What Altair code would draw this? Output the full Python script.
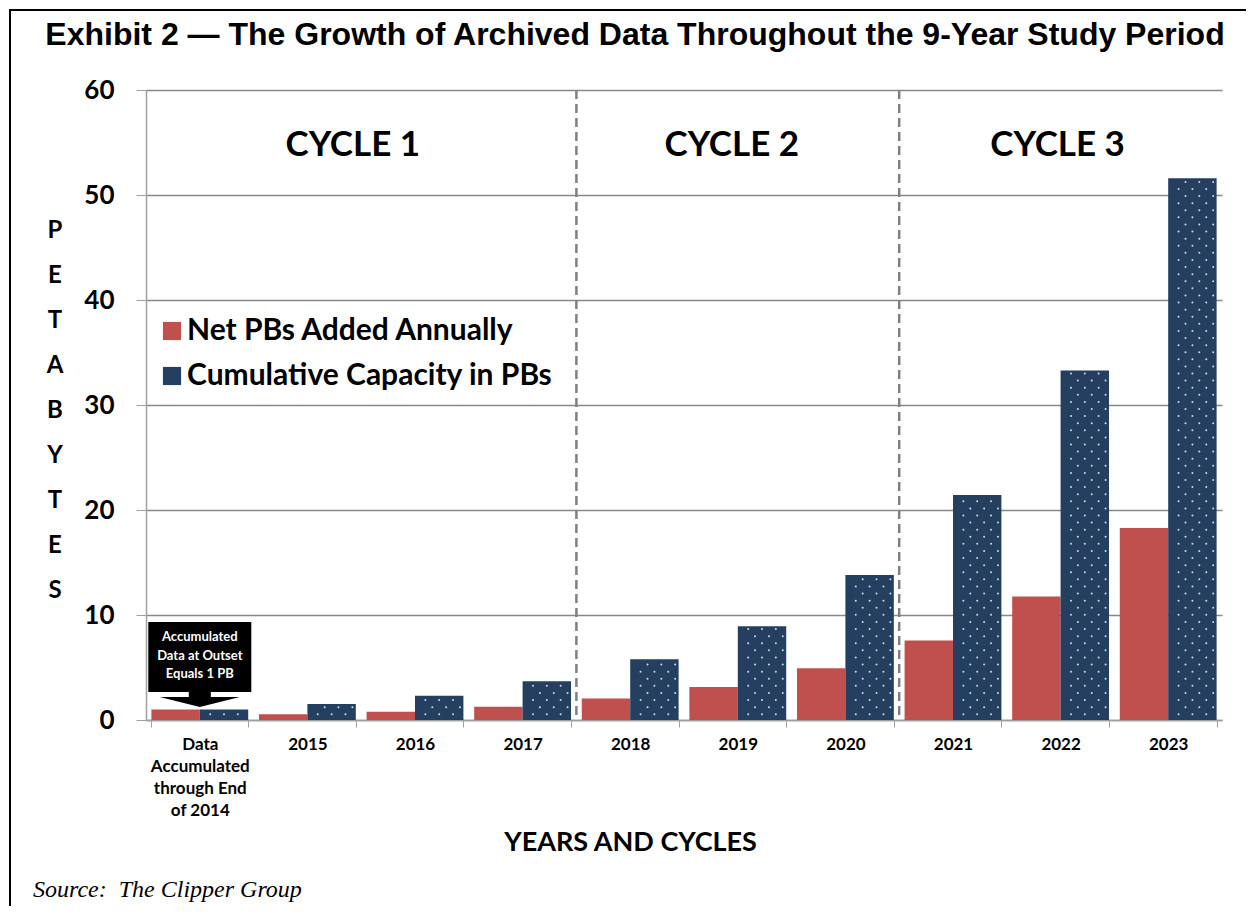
import altair as alt
import pandas as pd

# ---------------- data ----------------
categories = ["Data|Accumulated|through End|of 2014", "2015", "2016", "2017", "2018",
              "2019", "2020", "2021", "2022", "2023"]
series_names = ["Net PBs Added Annually", "Cumulative Capacity in PBs"]
net_added = [1.0, 0.54, 0.79, 1.27, 2.05, 3.14, 4.92, 7.58, 11.77, 18.29]
cumulative = [1.0, 1.52, 2.31, 3.69, 5.79, 8.92, 13.81, 21.43, 33.29, 51.6]
y_ticks = [0, 10, 20, 30, 40, 50, 60]
cycle_labels = ["CYCLE 1", "CYCLE 2", "CYCLE 3"]
cycle_anchor = ["2015", "2019", "2022"]
cycle_boundaries = ["2018", "2021"]
title_text = "Exhibit 2 \u2014 The Growth of Archived Data Throughout the 9-Year Study Period"
source_text = "Source:\u00a0 The Clipper Group"
callout_lines = ["Accumulated", "Data at Outset", "Equals 1 PB"]
y_title_letters = list("PETABYTES")

RED = "#C0504D"
NAVY = "#243F60"
FONT = "Lato"

W, H = 1076, 630

bars_df = pd.DataFrame({
    "cat": categories * 2,
    "series": [series_names[0]] * len(categories) + [series_names[1]] * len(categories),
    "value": net_added + cumulative,
})

# decorative dot pattern inside the cumulative bars
slot_domain = [f"s{i:02d}" for i in range(14)]
dot_rows = []
for c, v in zip(categories, cumulative):
    k = 0
    while True:
        yy = 0.55 + 0.676 * k
        if yy > v - 0.25:
            break
        js = [1, 3, 5] if k % 2 == 0 else [2, 4, 6]
        for j in js:
            dot_rows.append({"cat": c, "slot": slot_domain[7 + j], "y": yy})
        k += 1
dots_df = pd.DataFrame(dot_rows)

one = pd.DataFrame({"a": [0]})

x_scale = alt.Scale(domain=categories, paddingInner=0.1, paddingOuter=0.05)
y_scale = alt.Scale(domain=[0, 60], nice=False)

x_axis = alt.Axis(
    labelAngle=0, labelFont=FONT, labelFontSize=17, labelFontWeight="bold",
    labelColor="black",
    labelExpr="isString(datum.value) ? split(datum.value, '|') : ''",
    labelLineHeight=22, labelPadding=9, tickBand="extent", tickSize=7,
    tickColor="#a0a0a0", domainColor="#a0a0a0", domainWidth=1.5,
    title="YEARS AND CYCLES", titleFont=FONT, titleFontSize=27, titleFontWeight="bold",
    titleColor="black", titleX=484, titleY=122, titleBaseline="middle",
    titleAnchor="middle",
)
y_axis = alt.Axis(
    values=y_ticks, labelFont=FONT, labelFontSize=26, labelFontWeight="bold",
    labelColor="black", labelPadding=22, tickSize=10, tickColor="#a0a0a0",
    domainColor="#a0a0a0", domainWidth=1.5, gridColor="#888888", gridWidth=1.3,
    title=None,
)

bars = alt.Chart(bars_df).mark_bar().encode(
    x=alt.X("cat:N", sort=categories, scale=x_scale, axis=x_axis),
    xOffset=alt.XOffset("series:N", sort=series_names, scale=alt.Scale(domain=series_names)),
    y=alt.Y("value:Q", scale=y_scale, axis=y_axis),
    color=alt.Color("series:N", scale=alt.Scale(domain=series_names, range=[RED, NAVY]),
                    legend=alt.Legend(orient="none", legendX=11, legendY=226, title=None,
                                      symbolType="square", symbolSize=330,
                                      symbolStrokeWidth=0, labelFont=FONT,
                                      labelFontSize=30, labelFontWeight="bold",
                                      labelColor="black", rowPadding=15, labelOffset=0,
                                      labelLimit=600)),
)

dots = alt.Chart(dots_df).mark_circle(size=4, color="#d4dbe6", opacity=1, xOffset=-3.5).encode(
    x=alt.X("cat:N", sort=categories, scale=x_scale, axis=x_axis),
    xOffset=alt.XOffset("slot:N", scale=alt.Scale(domain=slot_domain)),
    y=alt.Y("y:Q", scale=y_scale, axis=y_axis),
)

div_df = pd.DataFrame({"cat": cycle_boundaries})
dividers = alt.Chart(div_df).mark_rule(color="#808080", strokeWidth=2.5,
                                       strokeDash=[9, 5], xOffset=-5.38).encode(
    x=alt.X("cat:N", sort=categories, scale=x_scale, bandPosition=0, axis=x_axis),
    y=alt.value(0), y2=alt.value(H),
)

cycle_layers = []
for lab, anc, bp, dx in zip(cycle_labels, cycle_anchor, [1, 0.5, 0.5], [-3, -6, -3]):
    cdf = pd.DataFrame({"cat": [anc], "label": [lab], "v": [54.8]})
    cycle_layers.append(
        alt.Chart(cdf).mark_text(font=FONT, fontSize=35, fontWeight="bold", color="black",
                                 baseline="middle", align="center", dx=dx).encode(
            x=alt.X("cat:N", sort=categories, scale=x_scale, bandPosition=bp, axis=x_axis),
            y=alt.Y("v:Q", scale=y_scale, axis=y_axis),
            text="label:N",
        )
    )

call_df = pd.DataFrame({"cat": [categories[0]], "top": [9.33], "bot": [2.67],
                        "first": [7.9], "arrow": [1.95],
                        "txt": ["\n".join(callout_lines)]})
call_box = alt.Chart(call_df).mark_bar(color="black", width=103).encode(
    x=alt.X("cat:N", sort=categories, scale=x_scale, axis=x_axis),
    y=alt.Y("top:Q", scale=y_scale, axis=y_axis), y2="bot:Q",
)
arrow_path = ("M -0.275 -0.1875 L 0.275 -0.1875 L 0.275 -0.0625 L 1 -0.0625 "
              "L 0 0.1875 L -1 -0.0625 L -0.275 -0.0625 Z")
call_arrow = alt.Chart(call_df).mark_point(shape=arrow_path, size=6400, filled=True,
                                           fill="black", color="black", opacity=1,
                                           strokeWidth=0).encode(
    x=alt.X("cat:N", sort=categories, scale=x_scale, axis=x_axis),
    y=alt.Y("arrow:Q", scale=y_scale, axis=y_axis),
)
call_text = alt.Chart(call_df).mark_text(font=FONT, fontSize=13, fontWeight="bold",
                                         color="white", lineBreak="\n", lineHeight=18.5,
                                         baseline="middle", align="center").encode(
    x=alt.X("cat:N", sort=categories, scale=x_scale, axis=x_axis),
    y=alt.Y("first:Q", scale=y_scale, axis=y_axis),
    text="txt:N",
)

ytitle = alt.Chart(one).mark_text(font=FONT, fontSize=24, fontWeight="bold", color="black",
                                  lineBreak="\n", lineHeight=45, baseline="top",
                                  align="center").encode(
    x=alt.value(-91), y=alt.value(129), text=alt.value("\n".join(y_title_letters)),
)

title = alt.Chart(one).mark_text(font="Liberation Sans", fontSize=32, fontWeight="bold",
                                 color="black", baseline="middle", align="center").encode(
    x=alt.value(489), y=alt.value(-55), text=alt.value(title_text),
)

source = alt.Chart(one).mark_text(font="Liberation Serif", fontSize=24, fontStyle="italic",
                                  color="black", baseline="middle", align="left").encode(
    x=alt.value(-113), y=alt.value(800), text=alt.value(source_text),
)

border_left = alt.Chart(one).mark_rule(color="black", strokeWidth=2).encode(
    x=alt.value(-136), y=alt.value(-81), y2=alt.value(H + 190),
)
border_top = alt.Chart(one).mark_rule(color="black", strokeWidth=2).encode(
    x=alt.value(-137), x2=alt.value(W + 40), y=alt.value(-80),
)

chart = alt.layer(
    bars, dots, dividers, *cycle_layers, call_box, call_arrow, call_text,
    ytitle, title, source, border_left, border_top,
).resolve_scale(xOffset="independent").properties(
    width=W, height=H,
    padding={"left": 138, "top": 82, "right": 24, "bottom": 186},
    autosize=alt.AutoSizeParams(type="none"),
    background="white",
).configure_view(stroke=None)

chart.save("out.html", embed_options={"renderer": "svg", "actions": False})
